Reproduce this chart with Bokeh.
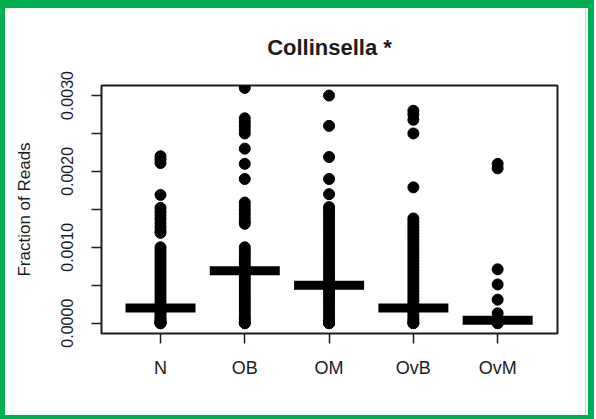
from bokeh.plotting import figure
from bokeh.models import Range1d, FixedTicker, NumeralTickFormatter, InlineStyleSheet
from bokeh.embed import file_html
from bokeh.resources import INLINE

# Groups along the x axis
categories = ["N", "OB", "OM", "OvB", "OvM"]

# Fraction of reads assigned to Collinsella, one value per sample
n_reads = [0.00220, 0.00216, 0.00211, 0.00169,
           0.00152, 0.00147, 0.00142, 0.00137, 0.00132, 0.00127, 0.00122, 0.00119,
           0.00100, 0.00096, 0.00092, 0.00088, 0.00084, 0.00080, 0.00076, 0.00072,
           0.00068, 0.00064, 0.00060, 0.00056, 0.00052, 0.00048, 0.00044, 0.00040,
           0.00036, 0.00032, 0.00028, 0.00024, 0.00021, 0.00018, 0.00015, 0.00012,
           0.00009, 0.00006, 0.00004, 0.00002, 0.00001, 0.0, 0.0, 0.0]
ob_reads = [0.00310, 0.00270, 0.00265, 0.00260, 0.00255, 0.00250,
            0.00230, 0.00210, 0.00190,
            0.00159, 0.00154, 0.00149, 0.00144, 0.00139, 0.00134, 0.00131,
            0.00100, 0.00096, 0.00092, 0.00088, 0.00084, 0.00080, 0.00076, 0.00072,
            0.00068, 0.00064, 0.00060, 0.00056, 0.00052, 0.00048, 0.00044, 0.00040,
            0.00036, 0.00032, 0.00028, 0.00024, 0.00020, 0.00016, 0.00012, 0.00008,
            0.00005, 0.00002, 0.0, 0.0]
om_reads = [0.00300, 0.00260, 0.00219, 0.00190, 0.00170,
            0.00153, 0.00149, 0.00145, 0.00141, 0.00137, 0.00133, 0.00129, 0.00125,
            0.00121, 0.00117, 0.00113, 0.00109, 0.00105, 0.00101, 0.00097, 0.00093,
            0.00089, 0.00085, 0.00081, 0.00077, 0.00073, 0.00069, 0.00065, 0.00061,
            0.00057, 0.00053, 0.00049, 0.00045, 0.00041, 0.00037, 0.00033, 0.00029,
            0.00025, 0.00021, 0.00017, 0.00013, 0.00009, 0.00005, 0.00002, 0.0, 0.0]
ovb_reads = [0.00280, 0.00275, 0.00268, 0.00250, 0.00179,
             0.00138, 0.00134, 0.00130, 0.00126, 0.00122, 0.00118, 0.00114, 0.00110,
             0.00106, 0.00102, 0.00098, 0.00094, 0.00090, 0.00086, 0.00082, 0.00078,
             0.00074, 0.00070, 0.00066, 0.00062, 0.00058, 0.00054, 0.00050, 0.00046,
             0.00042, 0.00038, 0.00034, 0.00030, 0.00026, 0.00022, 0.00018, 0.00014,
             0.00010, 0.00006, 0.00003, 0.0, 0.0]
ovm_reads = [0.00210, 0.00204, 0.00071, 0.00051, 0.00031, 0.00013,
             0.00006, 0.00002, 0.0, 0.0]

# Centre line drawn across each group
group_centres = [0.00020, 0.00069, 0.00050, 0.00020, 0.00004]

# Y axis ticks: every 0.0005, labelled every 0.0010
y_ticks = [0.0, 0.0005, 0.0010, 0.0015, 0.0020, 0.0025, 0.0030]
y_unlabelled = [0.0005, 0.0015, 0.0025]

groups = [n_reads, ob_reads, om_reads, ovb_reads, ovm_reads]

FONT = "Liberation Sans"
INK = "#1c1c1c"

# green page frame with a thin grey rule inside its right edge
frame_css = InlineStyleSheet(css="""
:host { position: relative; }
:host::after {
  content: ""; position: absolute; left: 0; top: 0;
  width: 594px; height: 419px; box-sizing: border-box;
  border-top: 8px solid #00b050; border-left: 5px solid #00b050;
  border-right: 6px solid #00b050; border-bottom: 4px solid #00b050;
  pointer-events: none; z-index: 10;
}
:host::before {
  content: ""; position: absolute; left: 585px; top: 8px;
  width: 1px; height: 407px; background: #d0d0d0;
  pointer-events: none; z-index: 10;
}
""")

p = figure(width=596, height=419, output_backend="svg", toolbar_location=None,
           x_range=Range1d(0.3, 5.71), y_range=Range1d(-0.000136, 0.003132),
           min_border_left=101, min_border_right=39,
           min_border_top=85, min_border_bottom=86,
           title="Collinsella *")
p.stylesheets.append(frame_css)

p.background_fill_color = "white"
p.border_fill_color = "white"
p.outline_line_color = INK
p.outline_line_width = 2
p.xgrid.visible = False
p.ygrid.visible = False

p.title.align = "center"
p.title.text_font = FONT
p.title.text_font_size = "22px"
p.title.text_font_style = "bold"
p.title.text_color = INK
p.title.standoff = 51

# strip points for each group
xs, ys = [], []
for i, vals in enumerate(groups):
    xs.extend([i + 1] * len(vals))
    ys.extend(vals)
p.scatter(xs, ys, size=11, marker="circle", fill_color="black", line_color="black")

# thick horizontal centre bars
p.rect(x=list(range(1, len(categories) + 1)), y=group_centres,
       width=70, width_units="screen", height=9, height_units="screen",
       fill_color="black", line_color=None)

# x axis
p.xaxis.ticker = FixedTicker(ticks=list(range(1, len(categories) + 1)))
p.xaxis.major_label_overrides = {i + 1: c for i, c in enumerate(categories)}
p.xaxis.axis_line_color = None
p.xaxis.major_tick_in = 0
p.xaxis.major_tick_out = 10
p.xaxis.major_tick_line_color = INK
p.xaxis.major_tick_line_width = 1.5
p.xaxis.minor_tick_line_color = None
p.xaxis.major_label_text_font = FONT
p.xaxis.major_label_text_font_size = "18px"
p.xaxis.major_label_text_color = INK
p.xaxis.major_label_standoff = 14

# y axis
p.yaxis.ticker = FixedTicker(ticks=y_ticks)
p.yaxis.formatter = NumeralTickFormatter(format="0.0000")
p.yaxis.major_label_overrides = {t: "" for t in y_unlabelled}
p.yaxis.major_label_orientation = "vertical"
p.yaxis.axis_line_color = None
p.yaxis.major_tick_in = 0
p.yaxis.major_tick_out = 10
p.yaxis.major_tick_line_color = INK
p.yaxis.major_tick_line_width = 1.5
p.yaxis.minor_tick_line_color = None
p.yaxis.major_label_text_font = FONT
p.yaxis.major_label_text_font_size = "16px"
p.yaxis.major_label_text_color = INK
p.yaxis.major_label_standoff = 18
p.yaxis.axis_label = "Fraction of Reads"
p.yaxis.axis_label_text_font = FONT
p.yaxis.axis_label_text_font_size = "17px"
p.yaxis.axis_label_text_font_style = "normal"
p.yaxis.axis_label_text_color = INK
p.yaxis.axis_label_standoff = 25

open("out.html", "w").write(file_html(p, INLINE))
